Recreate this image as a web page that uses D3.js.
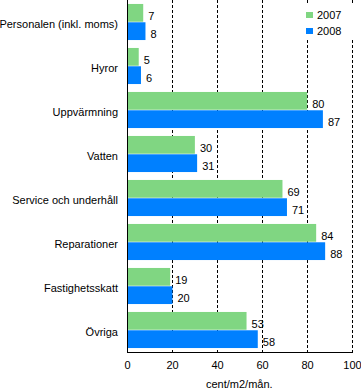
<!DOCTYPE html>
<html><head><meta charset="utf-8">
<script src="https://cdn.jsdelivr.net/npm/d3@7"></script>
<style>body{margin:0;background:#fff;}svg{display:block;font-family:"Liberation Sans",Arial,sans-serif;}</style>
</head><body>
<svg id="c" width="361" height="389"></svg>
<script>
const categories = ["Personalen (inkl. moms)","Hyror","Uppvärmning","Vatten","Service och underhåll","Reparationer","Fastighetsskatt","Övriga"];
const series = ["2007","2008"];
const values2007 = [7,5,80,30,69,84,19,53];
const values2008 = [8,6,87,31,71,88,20,58];
const xTicks = [0,20,40,60,80,100];
const xTitle = "cent/m2/mån.";
const colors = ["#80d682","#0080ff"];

const svg = d3.select("#c");
const m = {l:127, t:0};
const ph = 352;
const g = svg.append("g").attr("transform",`translate(${m.l},${m.t})`);

const x = d3.scaleLinear().domain([0,100]).range([0,224.6]);
const y = d3.scaleBand().domain(categories).range([0,ph]).paddingInner(0.18).paddingOuter(0.09);
const ys = d3.scaleBand().domain(series).range([0,y.bandwidth()]).paddingInner(0.03);

// gridlines
g.selectAll(".grid").data(xTicks.filter(d=>d>0)).join("line")
  .attr("x1",d=>Math.round(x(d))+0.5).attr("x2",d=>Math.round(x(d))+0.5)
  .attr("y1",0).attr("y2",ph)
  .attr("stroke","#000").attr("stroke-dasharray","3,2").attr("stroke-width",1);

const data = categories.map((c,i)=>({c, vals:[values2007[i],values2008[i]]}));
const grp = g.selectAll(".grp").data(data).join("g").attr("transform",d=>`translate(0,${y(d.c)})`);
grp.selectAll("rect").data(d=>d.vals.map((v,j)=>({v,s:series[j],j}))).join("rect")
  .attr("x",0.5).attr("y",d=>ys(d.s)).attr("width",d=>x(d.v)).attr("height",ys.bandwidth())
  .attr("fill",d=>colors[d.j]);
grp.selectAll("text").data(d=>d.vals.map((v,j)=>({v,s:series[j],j}))).join("text")
  .attr("x",d=>x(d.v)+5.5).attr("y",d=>ys(d.s)+ys.bandwidth()/2+3).attr("dy","0.35em")
  .attr("font-size",11).attr("fill","#000").text(d=>d.v);

// category labels
g.selectAll(".cat").data(categories).join("text")
  .attr("x",-9).attr("y",d=>y(d)+y.bandwidth()/2+2).attr("dy","0.35em")
  .attr("text-anchor","end").attr("font-size",11).attr("fill","#000").text(d=>d);

// axes lines
g.append("line").attr("x1",0.5).attr("x2",0.5).attr("y1",0).attr("y2",ph+0.5).attr("stroke","#000");
g.append("line").attr("x1",0).attr("x2",Math.round(x(100))+1).attr("y1",ph+0.5).attr("y2",ph+0.5).attr("stroke","#000");

// tick labels
g.selectAll(".tl").data(xTicks).join("text")
  .attr("x",d=>Math.round(x(d))+0.5).attr("y",ph+13).attr("dy","0.35em").attr("text-anchor","middle")
  .attr("font-size",11).attr("fill","#000").text(d=>d);
g.append("text").attr("x",x(50)).attr("y",ph+32).attr("dy","0.35em").attr("text-anchor","middle")
  .attr("font-size",11).attr("fill","#000").text(xTitle);

// legend
const lg = svg.append("g").attr("transform","translate(304,3)");
lg.append("rect").attr("x",0).attr("y",0).attr("width",52).attr("height",35).attr("fill","#fff");
series.forEach((s,i)=>{
  lg.append("rect").attr("x",2).attr("y",9+i*16).attr("width",7).attr("height",6).attr("fill",colors[i]);
  lg.append("text").attr("x",13).attr("y",12+i*16).attr("dy","0.35em").attr("font-size",11).attr("fill","#000").text(s);
});
</script>
</body></html>
